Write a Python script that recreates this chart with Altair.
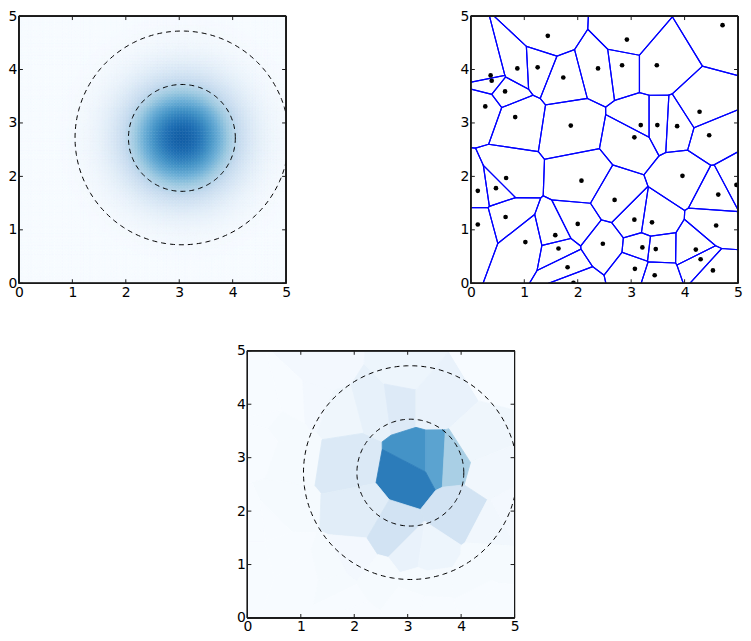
import numpy as np
import pandas as pd
import altair as alt

# ---------------- data ----------------
site_x = [1.44, 0.37, 0.39, 0.87, 1.25, 1.73, 0.64, 0.27, 0.83, 1.87,
          2.38, 2.92, 2.83, 3.48, 4.71, 4.28, 4.46, 3.18, 3.49, 3.86,
          3.06, 0.66, 0.13, 0.47, 2.07, 0.65, 0.13, 1.02, 1.58, 1.64,
          2.00, 1.81, 1.92, 3.96, 4.63, 4.97, 2.69, 3.06, 3.39, 4.59,
          2.47, 3.21, 3.46, 4.21, 4.30, 4.53, 3.07, 3.44]
site_y = [4.63, 3.89, 3.79, 4.02, 4.04, 3.85, 3.59, 3.31, 3.11, 2.95,
          4.02, 4.56, 4.08, 4.08, 4.83, 3.21, 2.77, 2.96, 2.96, 2.94,
          2.73, 1.97, 1.73, 1.78, 1.92, 1.24, 1.10, 0.77, 0.90, 0.65,
          1.11, 0.30, 0.01, 2.01, 1.66, 1.84, 1.56, 1.19, 1.14, 1.08,
          0.74, 0.67, 0.64, 0.63, 0.45, 0.24, 0.27, 0.15]
# shade of each Voronoi cell in the bottom panel (fraction of the Blues map)
cell_value = [0.02, 0.00, 0.00, 0.00, 0.02, 0.04, 0.01, 0.00, 0.01, 0.14,
              0.08, 0.05, 0.13, 0.07, 0.00, 0.04, 0.03, 0.62, 0.55, 0.34,
              0.71, 0.01, 0.00, 0.00, 0.11, 0.00, 0.00, 0.00, 0.01, 0.01,
              0.02, 0.00, 0.00, 0.19, 0.03, 0.02, 0.19, 0.07, 0.05, 0.01,
              0.01, 0.01, 0.01, 0.01, 0.00, 0.00, 0.00, 0.00]

circle_center = (3.05, 2.72)
circle_radii = [1.0, 2.0]
blob_center = (3.05, 2.72)
blob_sigma = 0.70
blob_peak = 0.82
tick_values = [0, 1, 2, 3, 4, 5]

BLUES = ["#f7fbff", "#deebf7", "#c6dbef", "#9ecae1", "#6baed6",
         "#4292c6", "#2171b5", "#08519c", "#08306b"]

W = H = 269
FONT = "DejaVu Sans"

# ---------------- derived tables ----------------
N = 90
edges = np.linspace(0, 5, N + 1)
cx = (edges[:-1] + edges[1:]) / 2
GX, GY = np.meshgrid(cx, cx)
GV = blob_peak * np.exp(-((GX - blob_center[0]) ** 2 + (GY - blob_center[1]) ** 2)
                        / (2 * blob_sigma ** 2))
IX, IY = np.meshgrid(np.arange(N), np.arange(N))
heat = pd.DataFrame({
    "x": edges[IX.ravel()], "x2": edges[IX.ravel() + 1],
    "y": edges[IY.ravel()], "y2": edges[IY.ravel() + 1],
    "v": GV.ravel().round(4),
})


def clip_poly(poly, a, b, c):
    out = []
    n = len(poly)
    for k in range(n):
        P, Q = poly[k], poly[(k + 1) % n]
        fp = a * P[0] + b * P[1] - c
        fq = a * Q[0] + b * Q[1] - c
        if fp <= 0:
            out.append(P)
        if fp * fq < 0:
            t = fp / (fp - fq)
            out.append((P[0] + t * (Q[0] - P[0]), P[1] + t * (Q[1] - P[1])))
    return out


rows = []
for i, (xi, yi) in enumerate(zip(site_x, site_y)):
    poly = [(-1.0, -1.0), (6.0, -1.0), (6.0, 6.0), (-1.0, 6.0)]
    for j, (xj, yj) in enumerate(zip(site_x, site_y)):
        if i == j:
            continue
        a, b = xj - xi, yj - yi
        c = (xj * xj + yj * yj - xi * xi - yi * yi) / 2
        poly = clip_poly(poly, a, b, c)
        if not poly:
            break
    poly = poly + [poly[0]]
    for k, (px, py) in enumerate(poly):
        rows.append({"cell": i, "k": k, "x": px, "y": py, "v": cell_value[i]})
cells = pd.DataFrame(rows)

sites = pd.DataFrame({"x": site_x, "y": site_y})

theta = np.linspace(0, 2 * np.pi, 241)
circ = pd.concat([
    pd.DataFrame({"r": r, "i": np.arange(len(theta)),
                  "x": circle_center[0] + r * np.cos(theta),
                  "y": circle_center[1] + r * np.sin(theta)})
    for r in circle_radii
])

ticks = pd.DataFrame({"t": tick_values})

# ---------------- scales / axes ----------------
sx = alt.Scale(domain=[0, 5], nice=False, zero=False)
sy = alt.Scale(domain=[0, 5], nice=False, zero=False)


def make_axis():
    return alt.Axis(values=tick_values, grid=False, domain=False, ticks=False,
                    labelPadding=2, labelFontSize=14, labelFont=FONT,
                    labelColor="black", labelFlush=False, labelOverlap=False,
                    title=None, format="d")


ax_x = make_axis()
ax_y = make_axis()
cscale = alt.Scale(domain=list(np.linspace(0, 1, 9)), range=BLUES,
                   interpolate="rgb", clamp=True)


def X(f):
    return alt.X(f, type="quantitative", scale=sx, axis=ax_x)


def Y(f):
    return alt.Y(f, type="quantitative", scale=sy, axis=ax_y)


def frame_layers():
    col = "#1a1a1a"
    fr = alt.Chart(ticks).mark_rect(fillOpacity=0, stroke=col,
                                    strokeWidth=1).encode(
        x=alt.value(0), x2=alt.value(W), y=alt.value(0), y2=alt.value(H))
    tb = alt.Chart(ticks).mark_rule(color=col, strokeWidth=1).encode(
        x=X("t"), y=alt.value(H), y2=alt.value(H - 4))
    tt = alt.Chart(ticks).mark_rule(color=col, strokeWidth=1).encode(
        x=X("t"), y=alt.value(0), y2=alt.value(4))
    tl = alt.Chart(ticks).mark_rule(color=col, strokeWidth=1).encode(
        y=Y("t"), x=alt.value(0), x2=alt.value(4))
    tr = alt.Chart(ticks).mark_rule(color=col, strokeWidth=1).encode(
        y=Y("t"), x=alt.value(W), x2=alt.value(W - 4))
    return [fr, tb, tt, tl, tr]


def circles():
    return alt.Chart(circ).mark_line(color="black", strokeWidth=1,
                                     strokeDash=[5, 4], clip=True).encode(
        x=X("x"), y=Y("y"), detail="r:N", order="i:Q")


# ---------------- panel 1: blob ----------------
heat_layer = alt.Chart(heat).mark_rect(strokeWidth=0.6, clip=True).encode(
    x=X("x"), x2="x2", y=Y("y"), y2="y2",
    fill=alt.Fill("v:Q", scale=cscale, legend=None),
    stroke=alt.Stroke("v:Q", scale=cscale, legend=None))
p1 = alt.layer(heat_layer, circles(), *frame_layers()).properties(width=W, height=H)

# ---------------- panel 2: Voronoi ----------------
vor_lines = alt.Chart(cells).mark_line(color="#0000ff", strokeWidth=1.2,
                                       clip=True).encode(
    x=X("x"), y=Y("y"), detail="cell:N", order="k:Q")
pts = alt.Chart(sites).mark_circle(size=22, color="black", opacity=1,
                                   clip=True).encode(x=X("x"), y=Y("y"))
p2 = alt.layer(vor_lines, pts, *frame_layers()).properties(width=W, height=H)

# ---------------- panel 3: shaded cells ----------------
vor_fill = alt.Chart(cells).mark_line(strokeWidth=0.8, clip=True).encode(
    x=X("x"), y=Y("y"), detail="cell:N", order="k:Q",
    fill=alt.Fill("v:Q", scale=cscale, legend=None),
    color=alt.Color("v:Q", scale=cscale, legend=None))
p3 = alt.layer(vor_fill, circles(), *frame_layers()).properties(width=W, height=H)

spacer = alt.Chart(ticks).mark_point(opacity=0, size=1).encode(
    x=alt.value(0), y=alt.value(0)).properties(width=219, height=10)

top = alt.hconcat(p1, p2, spacing=170)
bottom = alt.hconcat(spacer, p3, spacing=0)
chart = alt.vconcat(top, bottom, spacing=45).properties(
    padding={"left": 0, "top": -1, "right": 0, "bottom": -3},
    background="white",
).configure_view(stroke="transparent", strokeWidth=0)

chart.save("out.html", embed_options={"renderer": "svg", "actions": False})
